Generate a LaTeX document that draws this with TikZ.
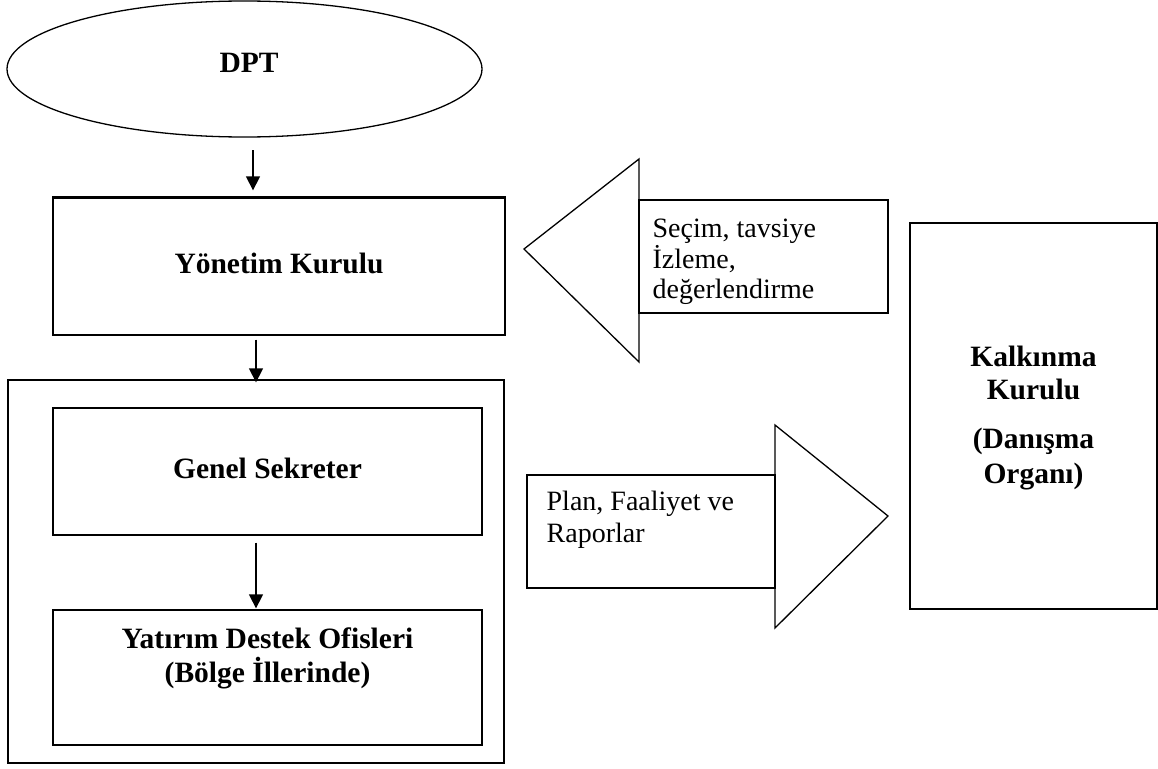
\documentclass[tikz,border=0pt]{standalone}
\usepackage{fontspec}
\setmainfont{Liberation Serif}
\usetikzlibrary{shapes.geometric,arrows.meta}
\begin{document}
\begin{tikzpicture}[x=1pt,y=-1pt,line width=1.3pt,
  box/.style={draw,rectangle,inner sep=0pt},
  bl/.style={font=\fontsize{29.5}{34}\selectfont\bfseries,inner sep=0pt,anchor=base},
  rl/.style={font=\fontsize{28}{31}\selectfont,inner sep=0pt,anchor=base west},
  arr/.style={-{Triangle[width=14pt,length=14pt]},line width=1.3pt}]
\useasboundingbox (0,0) rectangle (1158,768);

% DPT ellipse
\node[draw,ellipse,inner sep=0pt,minimum width=475pt,minimum height=136pt] (dpt) at (244.5,69) {};
\node[bl] (dptl) at (249,73) {DPT};

% left column boxes
\node[box,minimum width=452pt,minimum height=137pt] (yk) at (279,266.5) {};
\draw[line width=2.6pt] (yk.north west) -- (yk.north east);
\node[box,minimum width=496pt,minimum height=383pt] (outer) at (256,571.5) {};
\node[box,minimum width=429pt,minimum height=127pt] (gs) at (267.5,471.5) {};
\node[box,minimum width=429pt,minimum height=135pt] (ya) at (267.5,677.5) {};

\node[bl] (ykl) at (279,273) {Yönetim Kurulu};
\node[bl] (gsl) at (267.5,478) {Genel Sekreter};
\node[bl] (yal1) at (267.5,648) {Yatırım Destek Ofisleri};
\node[bl] (yal2) at (267.5,682) {(Bölge İllerinde)};

% connectors
\coordinate (s1) at (253,150);
\coordinate (x2) at (256,0);
\coordinate (x3) at (256,0);
\draw[arr,shorten >=7pt] (s1) -- (s1 |- yk.north);
\draw[arr,shorten <=4pt,shorten >=-3pt] (yk.south -| x2) -- (outer.north -| x2);
\draw[arr,shorten <=7pt,shorten >=1pt] (gs.south -| x3) -- (ya.north -| x3);

% Kalkinma Kurulu
\node[box,minimum width=247pt,minimum height=386pt] (kk) at (1033.5,416) {};
\node[bl] (kk1) at (1033.5,366) {Kalkınma};
\node[bl] (kk2) at (1033.5,399) {Kurulu};
\node[bl] (kk3) at (1033.5,448) {(Danışma};
\node[bl] (kk4) at (1033.5,483) {Organı)};

% left block arrow
\draw (524,249) -- (639,159) -- (639,362) -- cycle;
\node[box,minimum width=249pt,minimum height=113pt] (selbox) at (763.5,256.5) {};
\node[rl] (sel1) at (652,237) {Seçim, tavsiye};
\node[rl] (sel2) at (652,268) {İzleme,};
\node[rl] (sel3) at (652,298) {değerlendirme};

% right block arrow
\node[box,minimum width=248pt,minimum height=113pt] (planbox) at (651,531.5) {};
\draw (775,425) -- (888,516) -- (775,628) -- cycle;
\node[rl] (pl1) at (546,510) {Plan, Faaliyet ve};
\node[rl] (pl2) at (546,542) {Raporlar};
\end{tikzpicture}
\end{document}
